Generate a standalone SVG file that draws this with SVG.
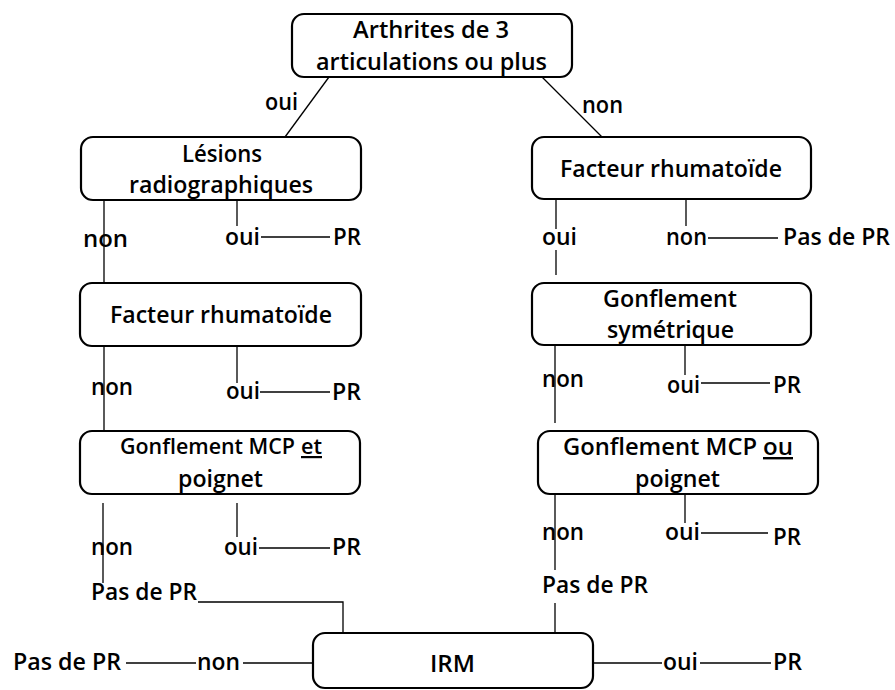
<svg xmlns="http://www.w3.org/2000/svg" width="895" height="690" viewBox="0 0 895 690">
<style>
.box{fill:#fff;stroke:#000;stroke-width:2.2}
.t{font-family:"Open Sans","Noto Sans",sans-serif;font-weight:600;font-size:24px;fill:#000}
.s{font-size:22px}
.c{stroke:#000;stroke-width:1.3;fill:none}
.u{text-decoration:underline}
</style>
<rect width="895" height="690" fill="#fff"/>
<g id="connectors">
<line class="c" x1="329" y1="77" x2="285" y2="137"/>
<line class="c" x1="542" y1="77" x2="602" y2="137"/>
<line class="c" x1="104" y1="200" x2="104" y2="283"/>
<line class="c" x1="237" y1="200" x2="237" y2="226"/>
<line class="c" x1="261" y1="237" x2="330" y2="237"/>
<line class="c" x1="104" y1="346" x2="104" y2="430"/>
<line class="c" x1="237" y1="346" x2="237" y2="383"/>
<line class="c" x1="260" y1="392" x2="330" y2="392"/>
<line class="c" x1="103" y1="503" x2="103" y2="583"/>
<line class="c" x1="237" y1="503" x2="237" y2="537"/>
<line class="c" x1="259" y1="548" x2="330" y2="548"/>
<polyline class="c" points="198,602 343,602 343,633"/>
<line class="c" x1="126" y1="663" x2="196" y2="663"/>
<line class="c" x1="243" y1="663" x2="313" y2="663"/>
<line class="c" x1="593" y1="663" x2="662" y2="663"/>
<line class="c" x1="700" y1="663" x2="771" y2="663"/>
<line class="c" x1="556" y1="199" x2="556" y2="229"/>
<line class="c" x1="556" y1="250" x2="556" y2="275"/>
<line class="c" x1="686" y1="199" x2="686" y2="226"/>
<line class="c" x1="708" y1="238" x2="778" y2="238"/>
<line class="c" x1="555" y1="345" x2="555" y2="423"/>
<line class="c" x1="685" y1="345" x2="685" y2="375"/>
<line class="c" x1="701" y1="383" x2="770" y2="383"/>
<line class="c" x1="555" y1="494" x2="555" y2="570"/>
<line class="c" x1="685" y1="494" x2="685" y2="523"/>
<line class="c" x1="701" y1="533" x2="768" y2="533"/>
<line class="c" x1="555" y1="603" x2="555" y2="633"/>
</g>
<g id="labels">
<text class="t" x="265" y="110" textLength="33" lengthAdjust="spacingAndGlyphs">oui</text>
<text class="t" x="582" y="113" textLength="41" lengthAdjust="spacingAndGlyphs">non</text>
<text class="t" x="83" y="247" textLength="45" lengthAdjust="spacingAndGlyphs">non</text>
<text class="t" x="225" y="245" textLength="35" lengthAdjust="spacingAndGlyphs">oui</text>
<text class="t" x="333" y="245" textLength="28" lengthAdjust="spacingAndGlyphs">PR</text>
<text class="t" x="91" y="395" textLength="42" lengthAdjust="spacingAndGlyphs">non</text>
<text class="t" x="226" y="399" textLength="34" lengthAdjust="spacingAndGlyphs">oui</text>
<text class="t" x="332" y="400" textLength="29" lengthAdjust="spacingAndGlyphs">PR</text>
<text class="t" x="91" y="555" textLength="42" lengthAdjust="spacingAndGlyphs">non</text>
<text class="t" x="224" y="555" textLength="34" lengthAdjust="spacingAndGlyphs">oui</text>
<text class="t" x="332" y="555" textLength="29" lengthAdjust="spacingAndGlyphs">PR</text>
<text class="t" x="91" y="600" textLength="106" lengthAdjust="spacingAndGlyphs">Pas de PR</text>
<text class="t" x="13" y="670" textLength="108" lengthAdjust="spacingAndGlyphs">Pas de PR</text>
<text class="t" x="197" y="670" textLength="43" lengthAdjust="spacingAndGlyphs">non</text>
<text class="t" x="663" y="670" textLength="35" lengthAdjust="spacingAndGlyphs">oui</text>
<text class="t" x="773" y="670" textLength="29" lengthAdjust="spacingAndGlyphs">PR</text>
<text class="t" x="542" y="245" textLength="35" lengthAdjust="spacingAndGlyphs">oui</text>
<text class="t" x="666" y="245" textLength="41" lengthAdjust="spacingAndGlyphs">non</text>
<text class="t" x="783" y="245" textLength="107" lengthAdjust="spacingAndGlyphs">Pas de PR</text>
<text class="t" x="542" y="387" textLength="42" lengthAdjust="spacingAndGlyphs">non</text>
<text class="t" x="667" y="393" textLength="33" lengthAdjust="spacingAndGlyphs">oui</text>
<text class="t" x="773" y="393" textLength="28" lengthAdjust="spacingAndGlyphs">PR</text>
<text class="t" x="542" y="540" textLength="42" lengthAdjust="spacingAndGlyphs">non</text>
<text class="t" x="665" y="540" textLength="35" lengthAdjust="spacingAndGlyphs">oui</text>
<text class="t" x="773" y="545" textLength="28" lengthAdjust="spacingAndGlyphs">PR</text>
<text class="t" x="542" y="593" textLength="106" lengthAdjust="spacingAndGlyphs">Pas de PR</text>
</g>
<g id="n-arthrites">
<rect class="box" x="292" y="14" width="280" height="63" rx="12"/>
<text class="t" x="353" y="38" textLength="156" lengthAdjust="spacingAndGlyphs">Arthrites de 3</text>
<text class="t" x="316" y="70" textLength="231" lengthAdjust="spacingAndGlyphs">articulations ou plus</text>
</g>
<g id="n-lesions">
<rect class="box" x="81" y="137" width="280" height="63" rx="12"/>
<text class="t" x="182" y="162" textLength="80" lengthAdjust="spacingAndGlyphs">Lésions</text>
<text class="t" x="129" y="193" textLength="184" lengthAdjust="spacingAndGlyphs">radiographiques</text>
</g>
<g id="n-fr-right">
<rect class="box" x="532" y="137" width="279" height="62" rx="12"/>
<text class="t" x="560" y="177" textLength="222" lengthAdjust="spacingAndGlyphs">Facteur rhumatoïde</text>
</g>
<g id="n-fr-left">
<rect class="box" x="80" y="283" width="281" height="63" rx="12"/>
<text class="t" x="110" y="323" textLength="222" lengthAdjust="spacingAndGlyphs">Facteur rhumatoïde</text>
</g>
<g id="n-gonfl-sym">
<rect class="box" x="532" y="283" width="279" height="62" rx="12"/>
<text class="t" x="603" y="307" textLength="134" lengthAdjust="spacingAndGlyphs">Gonflement</text>
<text class="t" x="607" y="338" textLength="127" lengthAdjust="spacingAndGlyphs">symétrique</text>
</g>
<g id="n-mcp-et">
<rect class="box" x="80" y="431" width="280" height="63" rx="12"/>
<text class="t s" x="120" y="454" textLength="175" lengthAdjust="spacingAndGlyphs">Gonflement MCP</text>
<text class="t s u" x="301" y="454" textLength="21" lengthAdjust="spacingAndGlyphs">et</text>
<text class="t" x="178" y="487" textLength="85" lengthAdjust="spacingAndGlyphs">poignet</text>
</g>
<g id="n-mcp-ou">
<rect class="box" x="538" y="431" width="280" height="63" rx="12"/>
<text class="t" x="563" y="455" textLength="194" lengthAdjust="spacingAndGlyphs">Gonflement MCP</text>
<text class="t u" x="763" y="455" textLength="30" lengthAdjust="spacingAndGlyphs">ou</text>
<text class="t" x="635" y="487" textLength="85" lengthAdjust="spacingAndGlyphs">poignet</text>
</g>
<g id="n-irm">
<rect class="box" x="313" y="633" width="280" height="55" rx="12"/>
<text class="t" x="430" y="672" textLength="45" lengthAdjust="spacingAndGlyphs">IRM</text>
</g>
</svg>
